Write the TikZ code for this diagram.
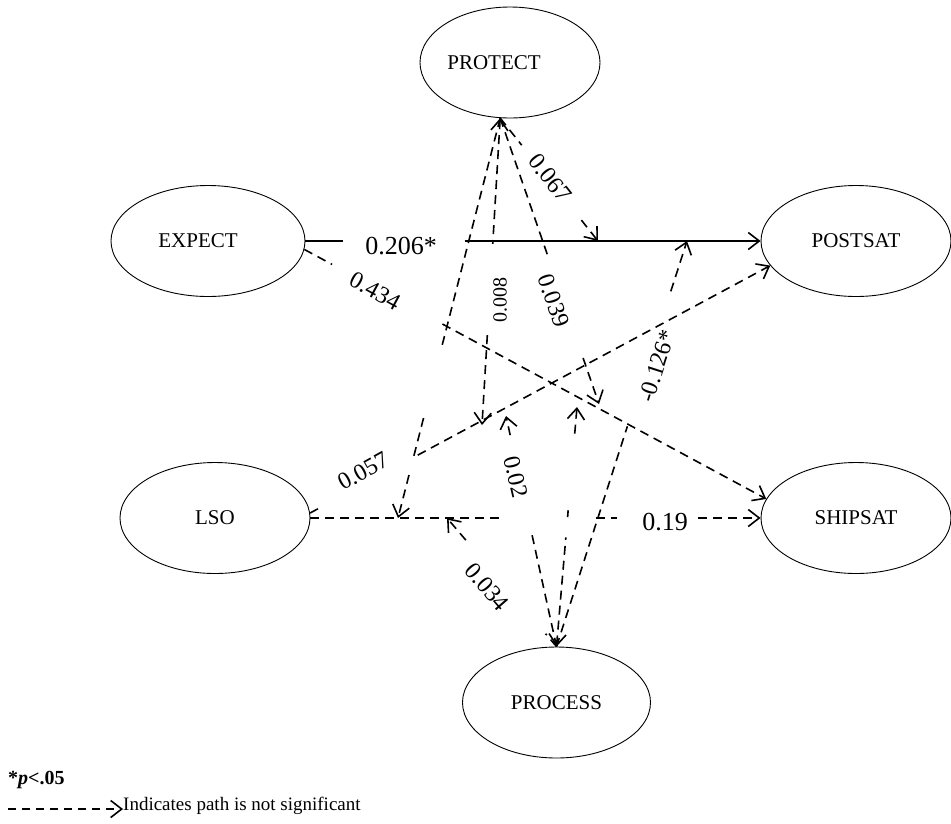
\documentclass[tikz,border=0pt]{standalone}
\usepackage{fontspec}
\setmainfont{Liberation Serif}
\usetikzlibrary{arrows.meta,calc,shapes.geometric}

\begin{document}
\begin{tikzpicture}[x=1pt,y=-1pt,
  var/.style={ellipse,draw,line width=0.9pt,minimum width=190pt,minimum height=111pt,
    inner sep=0pt,font=\fontsize{21}{21}\selectfont},
  sig/.style={line width=1.8pt},
  ns/.style={line width=1.6pt,dash pattern=on 9pt off 6pt},
  tip/.style={-{Straight Barb[length=11pt,width=17pt,line width=1.6pt]}},
  tipstart/.style={{Straight Barb[length=11pt,width=17pt,line width=1.6pt]}-},
  lbl/.style={font=\fontsize{24}{24}\selectfont,inner sep=0pt},
  lblbig/.style={font=\fontsize{26}{26}\selectfont,inner sep=0pt},
  lblsmall/.style={font=\fontsize{20}{20}\selectfont,inner sep=0pt}
]
\useasboundingbox (0,0) rectangle (951,823);

% variables (PROTECT and EXPECT have their names set a little left of centre)
\node[var,minimum width=180pt] (protect) at (510,62.5) {\hspace*{-32pt}PROTECT};
\node[var,minimum width=194pt] (expect) at (208,241) {\hspace*{-20pt}EXPECT};
\node[var] (postsat) at (856,241) {POSTSAT};
\node[var] (lso) at (215,518) {LSO};
\node[var] (shipsat) at (856,518) {SHIPSAT};
\node[var,minimum width=188pt] (process) at (556.5,702.5) {PROCESS};

% points where moderating paths meet other paths
\coordinate (t067) at (598,241);
\coordinate (t008) at (482,425);
\coordinate (t039) at (599,404);
\coordinate (tlso) at (398,518);
\coordinate (t034) at (447,518);
\coordinate (t02) at (506,416);
\coordinate (tmid) at (577,407);
\coordinate (t126) at (687,241);

% EXPECT -> POSTSAT (significant)
\draw[sig] (expect.east) -- ($(expect.east)!0.083!(postsat.west)$);
\draw[sig,tip] ($(expect.east)!0.35!(postsat.west)$) -- (postsat.west);
\node[lblbig] (l206) at (401,246) {0.206*};

% EXPECT -> SHIPSAT
\draw[ns] (expect.-5) -- ($(expect.-5)!0.06!(shipsat.168)$);
\draw[ns,tip] ($(expect.-5)!0.299!(shipsat.168)$) -- (shipsat.168);
\node[lbl,rotate=-28.6] (l434) at (375,291) {0.434};

% LSO -> SHIPSAT
\draw[ns] (lso.east) -- ($(lso.east)!0.419!(shipsat.west)$);
\draw[ns] ($(lso.east)!0.634!(shipsat.west)$) -- ($(lso.east)!0.68!(shipsat.west)$);
\draw[ns,tip] ($(lso.east)!0.861!(shipsat.west)$) -- (shipsat.west);
\node[lblbig] (l19) at (665,522) {0.19};

% LSO -> POSTSAT
\draw[ns] (lso.3) -- ($(lso.3)!0.028!(postsat.196)$);
\draw[ns,tip] ($(lso.3)!0.234!(postsat.196)$) -- (postsat.196);
\node[lbl,rotate=28.8] (l057) at (363,471) {0.057};

% PROTECT as moderator
\draw[ns] (protect.-100) -- ($(protect.-100)!0.22!(t067)$);
\draw[ns,tip] ($(protect.-100)!0.83!(t067)$) -- (t067);
\node[lbl,rotate=-51.5] (l067) at (550,178) {0.067};

\draw[ns,tipstart] (protect.-100) -- ($(protect.-100)!0.41!(t008)$);
\draw[ns,tip] ($(protect.-100)!0.707!(t008)$) -- (t008);
\node[lblsmall,rotate=90] (l008) at (500,300) {0.008};

\draw[ns] (protect.-100) -- ($(protect.-100)!0.486!(t039)$);
\draw[ns,tip] ($(protect.-100)!0.839!(t039)$) -- (t039);
\node[lbl,rotate=-71.3] (l039) at (554,301) {0.039};

\draw[ns] (protect.-100) -- ($(protect.-100)!0.5675!(tlso)$);
\draw[ns] ($(protect.-100)!0.75!(tlso)$) -- ($(protect.-100)!0.848!(tlso)$);
\draw[ns,tip] ($(protect.-100)!0.8925!(tlso)$) -- (tlso);

% PROCESS as moderator
\draw[ns] (process.north) -- ($(process.north)!0.10!(t034)$);
\draw[ns,tip] ($(process.north)!0.828!(t034)$) -- (t034);
\node[lbl,rotate=-49] (l034) at (487,587) {0.034};

\draw[ns] (process.north) -- ($(process.north)!0.504!(t02)$);
\draw[ns,tip] ($(process.north)!0.917!(t02)$) -- (t02);
\node[lbl,rotate=-77] (l02) at (516,477) {0.02};

\draw[ns,tipstart] (process.north) -- ($(process.north)!0.456!(tmid)$);
\draw[ns] ($(process.north)!0.54!(tmid)$) -- ($(process.north)!0.569!(tmid)$);
\draw[ns,tip] ($(process.north)!0.889!(tmid)$) -- (tmid);

\draw[ns] (process.north) -- ($(process.north)!0.543!(t126)$);
\draw[ns,tip] ($(process.north)!0.876!(t126)$) -- (t126);
\node[lbl,rotate=72.2] (l126) at (657,366) {-0.126*};

% legend
\node[font=\bfseries\fontsize{20}{20}\selectfont,anchor=base west,inner sep=0pt] (note) at (8,784) {*\textit{p}<.05};
\node[font=\fontsize{19}{19}\selectfont,anchor=west,inner sep=0pt] (legend) at (123,806) {Indicates path is not significant};
\coordinate (k0) at (8,809);
\draw[ns,tip,dash pattern=on 8pt off 6pt] (k0) -- (legend.west |- k0);
\end{tikzpicture}
\end{document}
